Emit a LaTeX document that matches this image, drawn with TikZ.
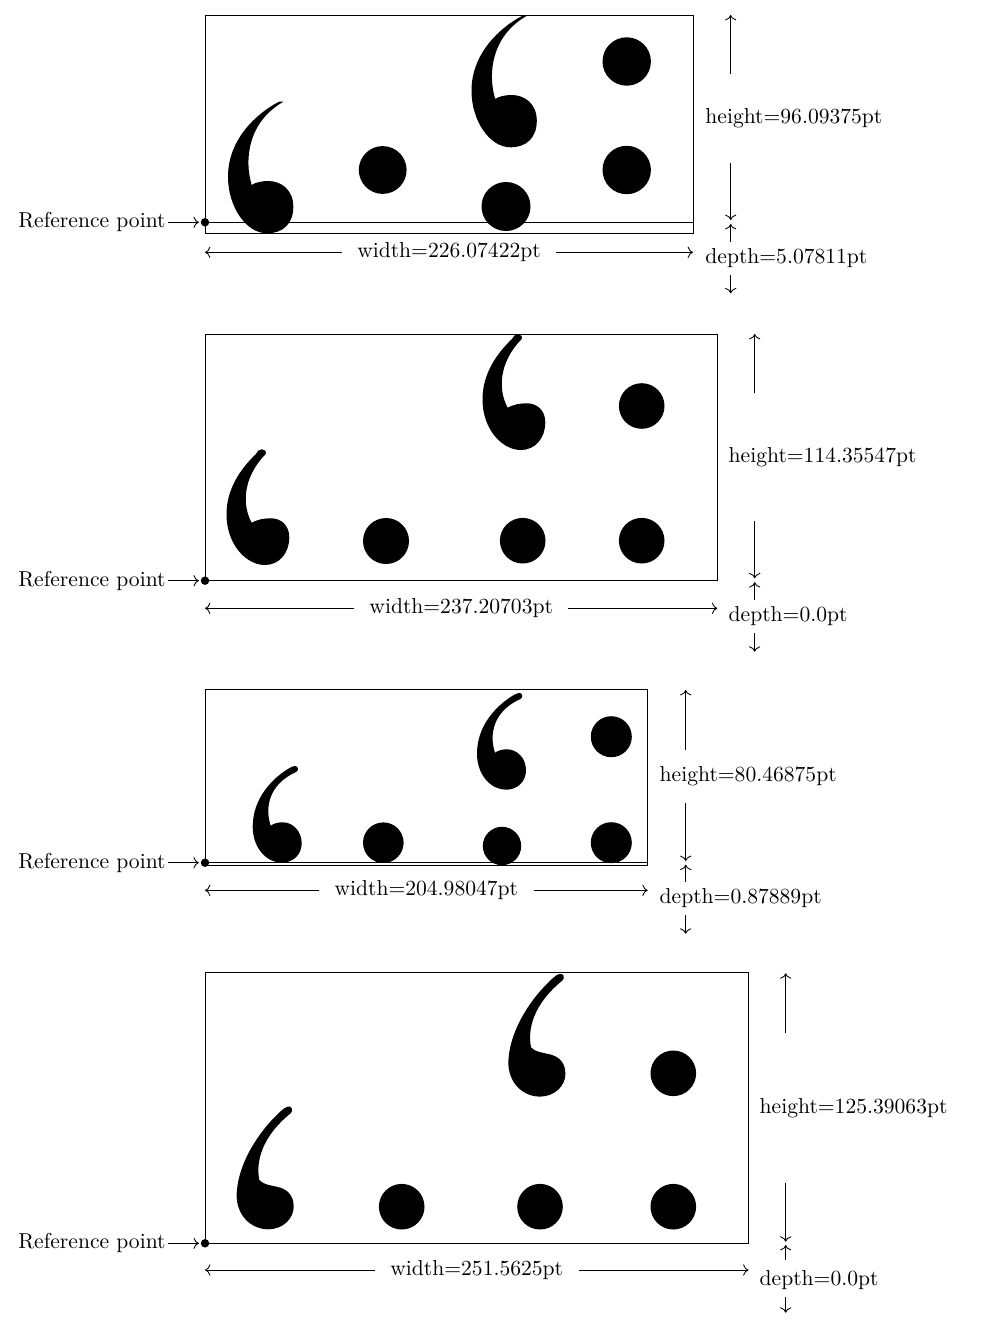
\documentclass[tikz,border=0pt]{standalone}
\usetikzlibrary{arrows.meta}
\tikzset{
  dimline/.style={->, line width=0.4pt},
  frame/.style={line width=0.4pt},
  lbl/.style={inner sep=0pt, anchor=west},
  wlbl/.style={inner sep=0pt, inner xsep=6.95pt, anchor=center},
  reflbl/.style={inner sep=0pt, anchor=east},
  refdot/.style={circle, fill=black, inner sep=0pt, minimum size=3.9pt},
  refarrow/.style={->, line width=0.4pt, shorten <=1pt, shorten >=0.7pt},
  quoteA/.pic={
    \fill (51,0) .. controls (28,12) and (0,38) .. (0,75)
      .. controls (0,105) and (18,131.6) .. (39,131.6)
      .. controls (55,131.6) and (65.3,122) .. (65.3,105)
      .. controls (65.3,88) and (53,79.3) .. (40.3,79.3)
      .. controls (33,79.3) and (27,81) .. (23.7,83.3)
      .. controls (16,58) and (20,20) .. (55.5,0) -- cycle;
  },
  quoteB/.pic={
    \fill (30,4.7) .. controls (14,20) and (0.5,40) .. (0.5,65)
      .. controls (0.5,95) and (20,115.7) .. (39,115.7)
      .. controls (53,115.7) and (63.3,104) .. (63.3,88)
      .. controls (63.3,76) and (55,69) .. (45,69)
      .. controls (36,69) and (30,71) .. (25.7,73.4)
      .. controls (17,58) and (15,30) .. (39.7,4.7)
      .. controls (40.5,1.5) and (38.5,0) .. (35.7,0)
      .. controls (33,0) and (31,2) .. (30,4.7) -- cycle;
  },
  quoteC/.pic={
    \fill (36.5,2.2) .. controls (20,12) and (0,32) .. (0,60.7)
      .. controls (0,82) and (14,96.7) .. (29,96.7)
      .. controls (41,96.7) and (49,88) .. (49,77.3)
      .. controls (49,65) and (40,56.3) .. (30,56.3)
      .. controls (25,56.3) and (21,57.5) .. (18,59.7)
      .. controls (12,42) and (16,18) .. (43.5,6)
      .. controls (46.5,4.5) and (45.5,-0.5) .. (42,0)
      .. controls (40,0.3) and (38,1.2) .. (36.5,2.2) -- cycle;
  },
  quoteD/.pic={
    \fill (47,2) .. controls (30,16) and (2,50) .. (0,86.6)
      .. controls (-1,108) and (14,122.6) .. (31.6,122.6)
      .. controls (46,122.6) and (57,112) .. (57,100)
      .. controls (57,88) and (50,82) .. (40,80)
      .. controls (33,78.5) and (26,77.5) .. (22.6,73.3)
      .. controls (19,55) and (25,30) .. (54,6.5)
      .. controls (57,4) and (55,-1.5) .. (51,0)
      .. controls (49.5,0.5) and (48,1.2) .. (47,2) -- cycle;
  }
}
\begin{document}
\begin{tikzpicture}[x=0.46335pt, y=-0.46335pt]
\useasboundingbox (0,0) rectangle (984,1324);

% ---------------- Panel 1 ----------------
\draw[frame] (205,15) rectangle (693,233.3);
\draw[frame] (205,222.3) -- (693,222.3);
\pic at (228,101.7) {quoteA};
\pic at (471.5,15.7) {quoteA};
\fill (382.7,170) circle (23.9);
\fill (506,206.5) circle (24.5);
\fill (626.7,61.5) circle (24.2);
\fill (626.7,170) circle (24.2);
\node[refdot] (d1) at (205,222.3) {};
\node[reflbl] (r1) at (166,222.3) {Reference point};
\draw[refarrow] (r1) -- (d1);
\node[wlbl] (w1) at (449,252.3) {width=226.07422pt};
\coordinate (w1l) at (205,252.3);
\coordinate (w1r) at (693,252.3);
\draw[dimline] (w1.west) -- (w1l);
\draw[dimline] (w1.east) -- (w1r);
\node[lbl] (h1) at (705,118.6) {height=96.09375pt};
\coordinate (h1a) at (730.7,74);
\coordinate (h1t) at (730.7,15);
\coordinate (h1b) at (730.7,163.3);
\coordinate (h1c) at (730.7,220);
\draw[dimline] (h1a) -- (h1t);
\draw[dimline] (h1b) -- (h1c);
\node[lbl] (e1) at (705,257.9) {depth=5.07811pt};
\coordinate (e1a) at (730.7,241.7);
\coordinate (e1t) at (730.7,224);
\coordinate (e1b) at (730.7,275);
\coordinate (e1c) at (730.7,293.3);
\draw[dimline] (e1a) -- (e1t);
\draw[dimline] (e1b) -- (e1c);

% ---------------- Panel 2 ----------------
\draw[frame] (205,334) rectangle (717.3,580.7);
\pic at (226,449.3) {quoteB};
\pic at (482,334.3) {quoteB};
\fill (386,541) circle (23);
\fill (522.7,540.7) circle (22.8);
\fill (641.7,540.7) circle (22.8);
\fill (641.7,406) circle (22.8);
\node[refdot] (d2) at (205,580.7) {};
\node[reflbl] (r2) at (166,580.7) {Reference point};
\draw[refarrow] (r2) -- (d2);
\node[wlbl] (w2) at (461.2,608.3) {width=237.20703pt};
\coordinate (w2l) at (205,608.3);
\coordinate (w2r) at (717.3,608.3);
\draw[dimline] (w2.west) -- (w2l);
\draw[dimline] (w2.east) -- (w2r);
\node[lbl] (h2) at (728.3,457.3) {height=114.35547pt};
\coordinate (h2a) at (754.7,393.3);
\coordinate (h2t) at (754.7,334);
\coordinate (h2b) at (754.7,521);
\coordinate (h2c) at (754.7,578.3);
\draw[dimline] (h2a) -- (h2t);
\draw[dimline] (h2b) -- (h2c);
\node[lbl] (e2) at (728.3,616.3) {depth=0.0pt};
\coordinate (e2a) at (754.7,600);
\coordinate (e2t) at (754.7,582.2);
\coordinate (e2b) at (754.7,633.3);
\coordinate (e2c) at (754.7,651.7);
\draw[dimline] (e2a) -- (e2t);
\draw[dimline] (e2b) -- (e2c);

% ---------------- Panel 3 ----------------
\draw[frame] (205,689.5) rectangle (647.7,865);
\draw[frame] (205,862.7) -- (647.7,862.7);
\pic at (252.7,766) {quoteC};
\pic at (477,693) {quoteC};
\fill (383.3,842.7) circle (20.3);
\fill (502,846) circle (19.2);
\fill (611.3,842.7) circle (20.5);
\fill (611.3,736.7) circle (20.5);
\node[refdot] (d3) at (205,862.7) {};
\node[reflbl] (r3) at (166,862.7) {Reference point};
\draw[refarrow] (r3) -- (d3);
\node[wlbl] (w3) at (426.35,890.3) {width=204.98047pt};
\coordinate (w3l) at (205,890.3);
\coordinate (w3r) at (647.7,890.3);
\draw[dimline] (w3.west) -- (w3l);
\draw[dimline] (w3.east) -- (w3r);
\node[lbl] (h3) at (659.3,776.1) {height=80.46875pt};
\coordinate (h3a) at (685.7,750);
\coordinate (h3t) at (685.7,690);
\coordinate (h3b) at (685.7,803.3);
\coordinate (h3c) at (685.7,861);
\draw[dimline] (h3a) -- (h3t);
\draw[dimline] (h3b) -- (h3c);
\node[lbl] (e3) at (659.3,898.3) {depth=0.87889pt};
\coordinate (e3a) at (685.7,881.7);
\coordinate (e3t) at (685.7,864.7);
\coordinate (e3b) at (685.7,915.4);
\coordinate (e3c) at (685.7,933.7);
\draw[dimline] (e3a) -- (e3t);
\draw[dimline] (e3b) -- (e3c);

% ---------------- Panel 4 ----------------
\draw[frame] (205,972.7) rectangle (748.5,1243.3);
\pic at (236.7,1106.7) {quoteD};
\pic at (508.4,974) {quoteD};
\fill (401.7,1206.7) circle (22.8);
\fill (540,1206.7) circle (22.8);
\fill (673.3,1206.7) circle (22.8);
\fill (673.3,1073.3) circle (22.8);
\node[refdot] (d4) at (205,1243.3) {};
\node[reflbl] (r4) at (166,1243.3) {Reference point};
\draw[refarrow] (r4) -- (d4);
\node[wlbl] (w4) at (476.75,1270) {width=251.5625pt};
\coordinate (w4l) at (205,1270);
\coordinate (w4r) at (748.5,1270);
\draw[dimline] (w4.west) -- (w4l);
\draw[dimline] (w4.east) -- (w4r);
\node[lbl] (h4) at (759.3,1108) {height=125.39063pt};
\coordinate (h4a) at (785.7,1032.7);
\coordinate (h4t) at (785.7,973.3);
\coordinate (h4b) at (785.7,1182.7);
\coordinate (h4c) at (785.7,1241.7);
\draw[dimline] (h4a) -- (h4t);
\draw[dimline] (h4b) -- (h4c);
\node[lbl] (e4) at (759.3,1279.6) {depth=0.0pt};
\coordinate (e4a) at (785.7,1260);
\coordinate (e4t) at (785.7,1245);
\coordinate (e4b) at (785.7,1296.7);
\coordinate (e4c) at (785.7,1312.7);
\draw[dimline] (e4a) -- (e4t);
\draw[dimline] (e4b) -- (e4c);
\end{tikzpicture}
\end{document}
